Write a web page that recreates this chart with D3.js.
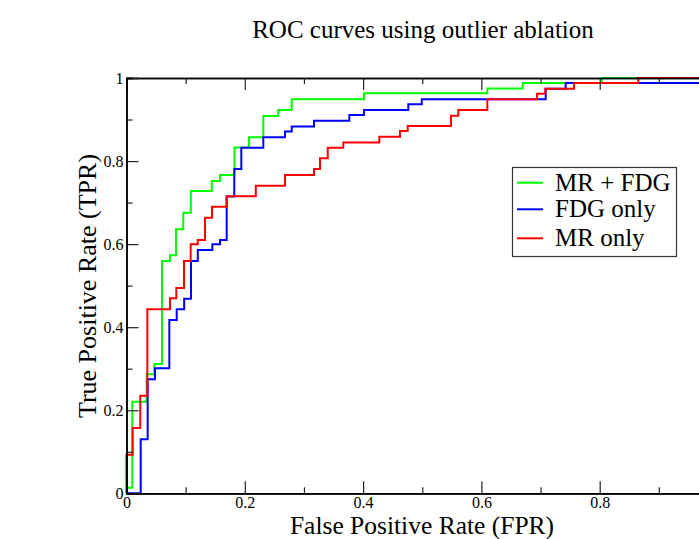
<!DOCTYPE html>
<html>
<head>
<meta charset="utf-8">
<script src="https://cdn.jsdelivr.net/npm/d3@7"></script>
<style>
  body { margin: 0; background: #fff; }
  svg { display: block; font-family: "Liberation Serif", "DejaVu Serif", serif; }
</style>
</head>
<body>
<div id="chart"></div>
<script>

// ROC points [fpr, tpr], each one is the top of a vertical step
var mrFdg = [
  [0, 0], [0, 0.0135], [0.0098, 0.2206], [0.0341, 0.2865], [0.047, 0.3113],
  [0.06, 0.5594], [0.0735, 0.5731], [0.0837, 0.6357], [0.096, 0.6757],
  [0.1087, 0.7279], [0.1442, 0.752], [0.1581, 0.7664], [0.1826, 0.8326],
  [0.2071, 0.8572], [0.2313, 0.9085], [0.2566, 0.9229], [0.2793, 0.9487],
  [0.4015, 0.9632], [0.61, 0.9747], [0.6698, 0.988], [0.8034, 1], [1, 1]
];
var fdgOnly = [
  [0, 0], [0.024, 0.13], [0.0358, 0.2745], [0.0482, 0.301], [0.0724, 0.4173],
  [0.0849, 0.4431], [0.0975, 0.4686], [0.109, 0.5594], [0.1205, 0.5858],
  [0.1451, 0.5996], [0.1581, 0.6099], [0.1694, 0.7147], [0.1822, 0.7809],
  [0.1941, 0.8322], [0.2313, 0.8572], [0.268, 0.8712], [0.2793, 0.8832],
  [0.317, 0.8972], [0.3767, 0.9109], [0.4015, 0.9229], [0.4764, 0.9367],
  [0.4992, 0.9487], [0.7087, 0.9742], [0.7425, 0.988], [1, 0.988], [1, 1]
];
var mrOnly = [
  [0, 0], [0, 0.0929], [0.0105, 0.1572], [0.0233, 0.235], [0.0352, 0.4431],
  [0.0735, 0.4695], [0.0842, 0.4943], [0.0972, 0.5594], [0.1085, 0.5996],
  [0.1204, 0.6099], [0.1327, 0.6636], [0.1445, 0.6901], [0.1691, 0.7151],
  [0.2186, 0.7407], [0.268, 0.7664], [0.317, 0.7809], [0.3271, 0.8066],
  [0.3402, 0.8322], [0.3665, 0.8447], [0.4274, 0.8587], [0.4624, 0.8724],
  [0.4754, 0.8844], [0.5486, 0.9092], [0.5609, 0.9229], [0.61, 0.9487],
  [0.694, 0.962], [0.708, 0.9742], [0.7566, 0.988], [0.8653, 1], [1, 1]
];

var seriesNames = ["MR + FDG", "FDG only", "MR only"];
var seriesColors = ["#00ff00", "#0000ff", "#ff0000"];
var seriesData = [mrFdg, fdgOnly, mrOnly];

var majorTicks = [0, 0.2, 0.4, 0.6, 0.8, 1];
var minorTicks = [0.1, 0.3, 0.5, 0.7, 0.9];
// the x=1 label falls outside the window, so only these get text
var xLabelTicks = [0, 0.2, 0.4, 0.6, 0.8];

var width = 699, height = 539;

var svg = d3.select("#chart").append("svg")
    .attr("width", width)
    .attr("height", height);

var x = d3.scaleLinear().domain([0, 1]).range([126.5, 718]);
var y = d3.scaleLinear().domain([0, 1]).range([493.3, 78]);

var fmt = d3.format("~g");

/* curves first, frame on top */
var line = d3.line()
    .x(function(d) { return x(d[0]); })
    .y(function(d) { return y(d[1]); })
    .curve(d3.curveStepAfter);

seriesData.forEach(function(s, i) {
  svg.append("path")
      .datum(s)
      .attr("d", line)
      .attr("fill", "none")
      .attr("stroke", seriesColors[i])
      .attr("stroke-width", 2);
});

// axes, ticks point inward
function addAxis(axisFn, scale, tr, size, ticks, labels) {
  var g = svg.append("g")
      .attr("transform", tr)
      .call(axisFn(scale).tickValues(ticks).tickSize(-size).tickPadding(labels ? 3 : 5)
          .tickFormat(labels ? fmt : ""));
  g.select(".domain").attr("stroke", "#000").attr("stroke-width", 1.5);
  g.selectAll(".tick line").attr("stroke", "#222").attr("stroke-width", 1.2);
  g.selectAll(".tick text")
      .attr("font-family", "Liberation Serif")
      .attr("font-size", 16)
      .attr("fill", "#000");
  return g;
}

var bottom = "translate(0," + y(0) + ")";
var top_ = "translate(0," + y(1) + ")";
var left = "translate(" + x(0) + ",0)";
var right = "translate(" + x(1) + ",0)";

addAxis(d3.axisBottom, x, bottom, 12, majorTicks, false);
addAxis(d3.axisBottom, x, bottom, 0, xLabelTicks, true);
addAxis(d3.axisBottom, x, bottom, 6, minorTicks, false);
addAxis(d3.axisTop, x, top_, 12, majorTicks, false);
addAxis(d3.axisTop, x, top_, 6, minorTicks, false);
addAxis(d3.axisLeft, y, left, 12, majorTicks, true);
addAxis(d3.axisLeft, y, left, 6, minorTicks, false);
addAxis(d3.axisRight, y, right, 12, majorTicks, false);
addAxis(d3.axisRight, y, right, 6, minorTicks, false);

// title and axis labels
svg.append("text")
    .attr("x", 423)
    .attr("y", 38)
    .attr("text-anchor", "middle")
    .attr("font-size", 25)
    .text("ROC curves using outlier ablation");

svg.append("text")
    .attr("x", 422)
    .attr("y", 534)
    .attr("text-anchor", "middle")
    .attr("font-size", 25.5)
    .text("False Positive Rate (FPR)");

svg.append("text")
    .attr("transform", "translate(96,286) rotate(-90)")
    .attr("text-anchor", "middle")
    .attr("font-size", 26)
    .text("True Positive Rate (TPR)");

/* legend */
var legend = svg.append("g");
legend.append("rect")
    .attr("x", 512.5)
    .attr("y", 167.5)
    .attr("width", 164)
    .attr("height", 89)
    .attr("fill", "#fff")
    .attr("stroke", "#333")
    .attr("stroke-width", 1.2);

var rowY = [182.7, 209.3, 238.3];
seriesNames.forEach(function(name, i) {
  legend.append("line")
      .attr("x1", 517).attr("x2", 543)
      .attr("y1", rowY[i]).attr("y2", rowY[i])
      .attr("stroke", seriesColors[i])
      .attr("stroke-width", 2);
  legend.append("text")
      .attr("x", 555)
      .attr("y", rowY[i] + 8)
      .attr("font-size", 25)
      .text(name);
});

</script>
</body>
</html>
